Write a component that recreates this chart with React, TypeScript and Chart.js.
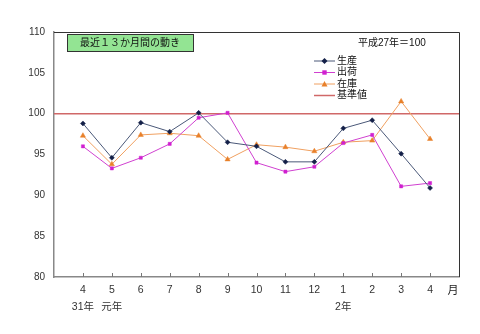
import { useEffect, useRef } from 'react';
import { Chart, registerables } from 'chart.js';

Chart.register(...registerables);

const months = ['4', '5', '6', '7', '8', '9', '10', '11', '12', '1', '2', '3', '4'];
const yearLabels = ['31年', '元年', '', '', '', '', '', '', '', '2年', '', '', ''];
const production = [98.8, 94.6, 98.9, 97.8, 100.1, 96.5, 96.0, 94.1, 94.1, 98.2, 99.2, 95.1, 90.9];
const shipments = [96.0, 93.3, 94.6, 96.3, 99.5, 100.1, 94.0, 92.9, 93.5, 96.4, 97.4, 91.1, 91.5];
const inventory = [97.3, 93.8, 97.4, 97.6, 97.3, 94.4, 96.2, 95.9, 95.4, 96.5, 96.7, 101.5, 96.9];
const baseValue = 100;
const seriesNames = ['生産', '出荷', '在庫', '基準値'];
const titleText = '最近１３か月間の動き';
const baseNote = '平成27年＝100';
const unitLabel = '月';

const JP = '"Liberation Sans", Arial, "Noto Sans CJK JP", sans-serif';

const overlay = {
  id: 'overlay',
  afterDraw(chart: any) {
    const { ctx, chartArea: a, scales } = chart;
    ctx.save();
    // top / right frame
    ctx.strokeStyle = '#333';
    ctx.lineWidth = 1;
    ctx.beginPath();
    ctx.moveTo(a.left, a.top + 0.5);
    ctx.lineTo(a.right + 0.5, a.top + 0.5);
    ctx.lineTo(a.right + 0.5, a.bottom);
    ctx.stroke();
    // inside x ticks
    const xs = scales.x;
    ctx.strokeStyle = '#777';
    ctx.beginPath();
    for (let i = 1; i < xs.ticks.length - 1; i++) {
      const px = Math.round(xs.getPixelForTick(i)) + 0.5;
      ctx.moveTo(px, a.bottom);
      ctx.lineTo(px, a.bottom - 4);
    }
    ctx.stroke();

    // title box
    const bx = a.left + 13, by = a.top + 2, bw = 126, bh = 17;
    ctx.fillStyle = '#93E493';
    ctx.fillRect(bx, by, bw, bh);
    ctx.strokeStyle = '#333';
    ctx.strokeRect(bx + 0.5, by + 0.5, bw, bh);
    ctx.fillStyle = '#111';
    ctx.font = '10px ' + JP;
    ctx.textAlign = 'center';
    ctx.textBaseline = 'middle';
    ctx.fillText(titleText, bx + bw / 2, by + bh / 2 + 1);

    // base note
    ctx.textAlign = 'left';
    ctx.fillText(baseNote, a.left + 304, a.top + 11);

    // legend
    const lx0 = a.left + 260, lx1 = a.left + 281;
    chart.data.datasets.forEach((ds: any, i: number) => {
      const y = a.top + 29 + i * 11.5;
      ctx.strokeStyle = ds.borderColor;
      ctx.lineWidth = ds.borderWidth || 1;
      ctx.beginPath();
      ctx.moveTo(lx0, y);
      ctx.lineTo(lx1, y);
      ctx.stroke();
      if (ds.pointRadius > 0) {
        ctx.lineWidth = 1;
        (Chart as any).helpers
          ? null
          : null;
        ctx.fillStyle = ds.pointBackgroundColor;
        ctx.strokeStyle = ds.pointBorderColor;
        const cx = (lx0 + lx1) / 2, r = ds.pointRadius;
        ctx.beginPath();
        if (ds.pointStyle === 'rect') {
          ctx.rect(cx - r, y - r, 2 * r, 2 * r);
        } else if (ds.pointStyle === 'rectRot') {
          ctx.moveTo(cx, y - r - 0.5); ctx.lineTo(cx + r + 0.5, y); ctx.lineTo(cx, y + r + 0.5); ctx.lineTo(cx - r - 0.5, y); ctx.closePath();
        } else {
          ctx.moveTo(cx, y - r); ctx.lineTo(cx + r, y + r * 0.8); ctx.lineTo(cx - r, y + r * 0.8); ctx.closePath();
        }
        ctx.fill();
      }
      ctx.fillStyle = '#111';
      ctx.font = '10px ' + JP;
      ctx.textAlign = 'left';
      ctx.textBaseline = 'middle';
      ctx.fillText(ds.label, lx1 + 2, y);
    });

    // unit label
    ctx.fillStyle = '#222';
    ctx.font = '11px ' + JP;
    ctx.textAlign = 'center';
    ctx.textBaseline = 'middle';
    ctx.fillText(unitLabel, a.right - 6, a.bottom + 14);
    ctx.restore();
  },
};

export default function App() {
  const ref = useRef<HTMLCanvasElement | null>(null);
  useEffect(() => {
    if (!ref.current) return;
    const labels: any[] = [[''], ...months.map((m, i) => [m, yearLabels[i]]), ['']];
    const pad = (arr: number[]) => [null, ...arr, null];
    const chart = new Chart(ref.current, {
      type: 'line',
      data: {
        labels,
        datasets: [
          {
            label: seriesNames[0],
            data: pad(production),
            borderColor: '#4A5878',
            borderWidth: 1,
            pointStyle: 'rectRot',
            pointRadius: 2.5,
            pointBackgroundColor: '#142048',
            pointBorderColor: '#142048',
            pointBorderWidth: 0.5,
          },
          {
            label: seriesNames[1],
            data: pad(shipments),
            borderColor: '#D040D0',
            borderWidth: 1,
            pointStyle: 'rect',
            pointRadius: 2.2,
            pointBackgroundColor: '#D020D0',
            pointBorderColor: '#D020D0',
            pointBorderWidth: 0.5,
          },
          {
            label: seriesNames[2],
            data: pad(inventory),
            borderColor: '#F0A060',
            borderWidth: 1,
            pointStyle: 'triangle',
            pointRadius: 3,
            pointBackgroundColor: '#E8802A',
            pointBorderColor: '#E8802A',
            pointBorderWidth: 0.5,
          },
          {
            label: seriesNames[3],
            data: labels.map(() => baseValue),
            borderColor: '#D06868',
            borderWidth: 1.5,
            pointRadius: 0,
            order: 10,
          },
        ] as any,
      },
      options: {
        animation: false,
        responsive: false,
        devicePixelRatio: 1,
        layout: { padding: { top: 32, right: 21, left: 0, bottom: 0 } },
        plugins: { legend: { display: false }, tooltip: { enabled: false } },
        scales: {
          x: {
            offset: false,
            grid: { display: false, drawTicks: false },
            border: { color: '#888', width: 1.5 },
            ticks: {
              autoSkip: false,
              maxRotation: 0,
              padding: 5,
              color: '#333',
              font: { size: 10.5, family: JP, lineHeight: 1.6 },
            },
            afterFit(s: any) { s.height = 57; },
          },
          y: {
            min: 80,
            max: 110,
            grid: { display: false, drawTicks: false },
            border: { color: '#888', width: 1.5 },
            ticks: {
              stepSize: 5,
              padding: 9,
              color: '#333',
              font: { size: 10, family: JP },
            },
            afterFit(s: any) { s.width = 54; },
          },
        },
      },
      plugins: [overlay],
    });
    return () => chart.destroy();
  }, []);
  return (
    <div style={{ position: 'absolute', left: 0, top: 0, width: 480, height: 334, background: '#fff' }}>
      <canvas ref={ref} width={480} height={334} />
    </div>
  );
}
